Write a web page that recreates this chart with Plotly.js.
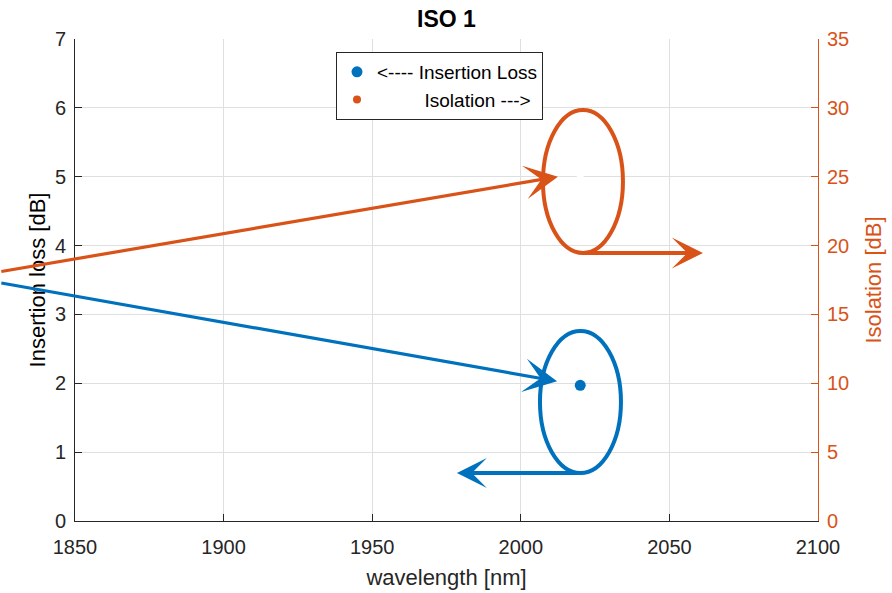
<!DOCTYPE html>
<html>
<head>
<meta charset="utf-8">
<script src="https://cdn.plot.ly/plotly-3.0.1.min.js"></script>
<style>
  html, body { margin: 0; padding: 0; background: #ffffff; }
  #chart { width: 892px; height: 593px; }
</style>
</head>
<body>
<div id="chart"></div>
<script>
// Measured values for the ISO 1 isolator
const wavelength = [2020];          // nm
const insertionLoss = [1.97];       // dB
const isolation = [25];             // dB

const xTickVals = [1850, 1900, 1950, 2000, 2050, 2100];
const ilTickVals = [0, 1, 2, 3, 4, 5, 6, 7];
const isoTickVals = [0, 5, 10, 15, 20, 25, 30, 35];

const legendIL = '<---- Insertion Loss';
const legendISO = '\u00A0'.repeat(9) + 'Isolation --->';

const BLUE = '#0072BD';
const ORANGE = '#D95319';
const INK = '#262626';
const GRID = '#dfdfdf';
const FONT = '"Liberation Sans", Arial, Helvetica, sans-serif';

const traces = [
  {
    x: wavelength, y: insertionLoss, name: legendIL,
    type: 'scatter', mode: 'markers', yaxis: 'y',
    marker: { color: BLUE, size: 11 }
  },
  // legend entry for the isolation series
  {
    x: [null], y: [null], name: legendISO,
    type: 'scatter', mode: 'markers', yaxis: 'y2',
    marker: { color: ORANGE, size: 8 }
  },
  {
    x: wavelength, y: isolation, name: 'Isolation',
    type: 'scatter', mode: 'markers', yaxis: 'y2', showlegend: false,
    marker: { color: '#ffffff', size: 7 }, hoverinfo: 'x+y'
  }
];

// Callout arrows pointing each series to its own axis
function arrow(color, head, tail, width, size) {
  return {
    xref: 'x', yref: 'y', axref: 'x', ayref: 'y',
    x: head[0], y: head[1], ax: tail[0], ay: tail[1],
    text: '', showarrow: true, arrowhead: 3,
    arrowcolor: color, arrowwidth: width, arrowsize: size,
    standoff: 0, startstandoff: 0
  };
}

const annotations = [
  arrow(BLUE, [2012.2, 2.03], [1824.7, 3.46], 3.2, 1.75),
  arrow(BLUE, [1978.5, 0.697], [2019.9, 0.697], 4, 1.25),
  arrow(ORANGE, [2012.5, 5.0], [1824.7, 3.62], 3.2, 1.75),
  arrow(ORANGE, [2061.3, 3.892], [2019.9, 3.892], 4, 1.3)
];

const shapes = [
  { type: 'circle', xref: 'x', yref: 'y', x0: 2006.45, x1: 2033.7, y0: 0.697, y1: 2.759,
    line: { color: BLUE, width: 4 } },
  { type: 'circle', xref: 'x', yref: 'y', x0: 2007.46, x1: 2034.37, y0: 3.892, y1: 5.969,
    line: { color: ORANGE, width: 4 } }
];

const layout = {
  width: 892, height: 593,
  margin: { l: 75, r: 74, t: 39, b: 72, pad: 0 },
  paper_bgcolor: '#ffffff', plot_bgcolor: '#ffffff',
  font: { family: FONT, color: INK, size: 20 },
  title: {
    text: '<b>ISO 1</b>', font: { family: FONT, size: 23, color: '#000000' },
    x: 0.5, xanchor: 'center', xref: 'paper', y: 1 - 19 / 593, yanchor: 'middle'
  },
  showlegend: true,
  legend: {
    x: (336 - 75) / 743, xanchor: 'left', y: (521 - 52) / 482, yanchor: 'top',
    bgcolor: '#ffffff', bordercolor: '#262626', borderwidth: 1,
    font: { family: FONT, size: 19, color: '#000000' },
    itemwidth: 30, tracegroupgap: 0
  },
  xaxis: {
    range: [1850, 2100], tickvals: xTickVals, ticktext: xTickVals.map(String),
    ticks: 'inside', ticklen: 7, tickcolor: INK, tickwidth: 1,
    showline: true, linecolor: INK, linewidth: 1, mirror: false,
    showgrid: true, gridcolor: GRID, gridwidth: 1, zeroline: false,
    tickfont: { family: FONT, size: 20, color: INK }, ticklabelstandoff: 8,
    title: { text: 'wavelength [nm]', font: { family: FONT, size: 22, color: INK }, standoff: 12 }
  },
  yaxis: {
    range: [0, 7], tickvals: ilTickVals, ticktext: ilTickVals.map(String),
    ticks: 'inside', ticklen: 7, tickcolor: INK, tickwidth: 1,
    showline: true, linecolor: INK, linewidth: 1,
    showgrid: true, gridcolor: GRID, gridwidth: 1, zeroline: false,
    tickfont: { family: FONT, size: 20, color: INK }, ticklabelstandoff: 4,
    title: { text: 'Insertion loss [dB]', font: { family: FONT, size: 22, color: '#000000' }, standoff: 3 }
  },
  yaxis2: {
    range: [0, 35], tickvals: isoTickVals, ticktext: isoTickVals.map(String),
    overlaying: 'y', side: 'right',
    ticks: 'inside', ticklen: 7, tickcolor: ORANGE, tickwidth: 1,
    showline: true, linecolor: ORANGE, linewidth: 1,
    showgrid: false, zeroline: false,
    tickfont: { family: FONT, size: 20, color: ORANGE }, ticklabelstandoff: 4,
    title: { text: 'Isolation [dB]', font: { family: FONT, size: 22, color: ORANGE }, standoff: 17 }
  },
  annotations: annotations,
  shapes: shapes
};

Plotly.newPlot('chart', traces, layout, { displayModeBar: false, staticPlot: true });
</script>
</body>
</html>
